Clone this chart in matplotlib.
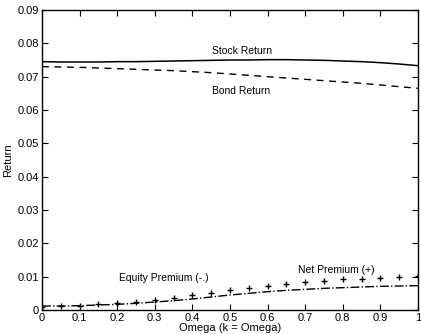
import numpy as np
import matplotlib.pyplot as plt

## Rendements en fonction de Omega (k = Omega)

omega = [0.0, 0.05, 0.1, 0.15, 0.2, 0.25, 0.3, 0.35, 0.4, 0.45, 0.5,
         0.55, 0.6, 0.65, 0.7, 0.75, 0.8, 0.85, 0.9, 0.95, 1.0]

stock = [0.0745, 0.0744, 0.0744, 0.0744, 0.0745, 0.0745, 0.0746, 0.0747, 0.0748, 0.0749, 0.0750,
         0.0750, 0.0751, 0.0751, 0.0750, 0.0749, 0.0747, 0.0745, 0.0742, 0.0738, 0.0733]

bond = [0.0730, 0.0729, 0.0728, 0.0726, 0.0724, 0.0722, 0.0720, 0.0718, 0.0715, 0.0712, 0.0708,
        0.0704, 0.0700, 0.0696, 0.0692, 0.0688, 0.0684, 0.0680, 0.0675, 0.0670, 0.0665]

equity = [0.0012, 0.0012, 0.0013, 0.0015, 0.0017, 0.0020, 0.0024, 0.0028, 0.0033, 0.0039, 0.0045,
          0.0050, 0.0055, 0.0059, 0.0062, 0.0065, 0.0067, 0.0069, 0.0071, 0.0072, 0.0073]

net = [0.0010, 0.0012, 0.0013, 0.0017, 0.0020, 0.0025, 0.0030, 0.0037, 0.0044, 0.0051, 0.0060,
       0.0067, 0.0073, 0.0078, 0.0083, 0.0088, 0.0092, 0.0094, 0.0096, 0.0098, 0.0101]

plt.rcParams['font.family'] = ['Liberation Sans', 'DejaVu Sans']

fig = plt.figure(figsize=(4.21, 3.34), dpi=100)
ax = fig.add_axes([42/421, 24/334, 376/421, 300/334])

ax.plot(omega, stock, 'k-', lw=1.1)
ax.plot(omega, bond, 'k--', lw=1.0, dashes=(5, 4))
ax.plot(omega, equity, 'k-.', lw=1.0)
ax.plot(omega, net, 'k+', ms=5, mew=1.0)

ax.text(0.453, 0.0767, 'Stock Return', fontsize=7.5)
ax.text(0.453, 0.0647, 'Bond Return', fontsize=7.5)
ax.text(0.205, 0.0087, 'Equity Premium (-.)', fontsize=7.5)
ax.text(0.682, 0.0110, 'Net Premium (+)', fontsize=7.5)

ax.set_xlim(0, 1)
ax.set_ylim(0, 0.09)
ax.set_xticks(np.arange(0, 1.01, 0.1))
ax.set_xticklabels(['0', '0.1', '0.2', '0.3', '0.4', '0.5', '0.6', '0.7', '0.8', '0.9', '1'])
ax.set_yticks(np.arange(0, 0.091, 0.01))
ax.set_yticklabels(['0', '0.01', '0.02', '0.03', '0.04', '0.05', '0.06', '0.07', '0.08', '0.09'])
ax.tick_params(direction='in', top=True, right=True, labelsize=8, length=4, width=0.8, pad=2)
for s in ax.spines.values():
    s.set_linewidth(1.0)

ax.set_xlabel('Omega (k = Omega)', fontsize=8, labelpad=0)
ax.set_ylabel('Return', fontsize=8, labelpad=3)

fig.savefig('out.png', dpi=100)
